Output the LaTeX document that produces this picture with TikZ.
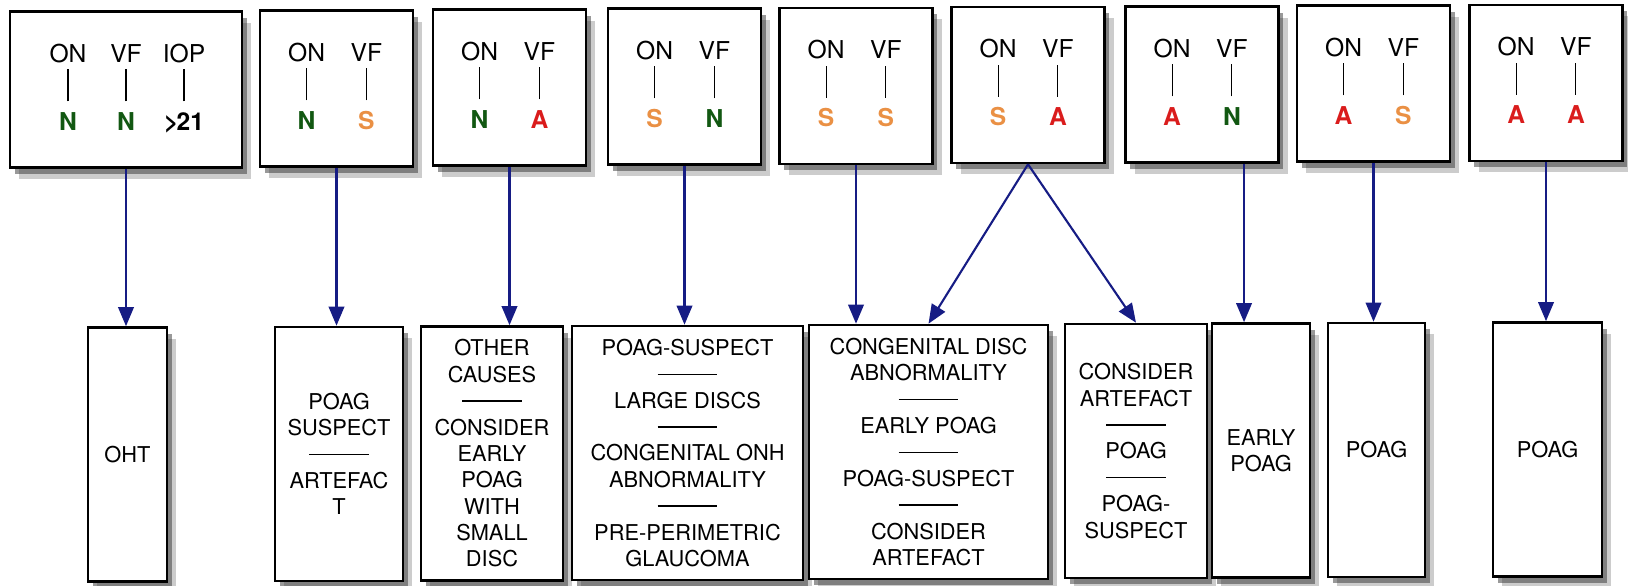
\documentclass[tikz,border=0pt]{standalone}
\usepackage{fontspec}
\setmainfont{TeX Gyre Heros}
\usepackage{array}
\usetikzlibrary{%
    arrows.meta,
    shadows,
    calc
}

\definecolor{ngreen}{RGB}{18,88,18}
\definecolor{sorange}{RGB}{234,144,68}
\definecolor{ared}{RGB}{218,28,28}
\definecolor{arrowblue}{RGB}{22,28,132}

\newcommand{\valN}{\textbf{\color{ngreen}N}}
\newcommand{\valS}{\textbf{\color{sorange}S}}
\newcommand{\valA}{\textbf{\color{ared}A}}
\newcommand{\colbar}{\smash{\rule[-1.45pt]{0.3pt}{9.1pt}}}
\newcommand{\sepline}{\rule[2pt]{17pt}{0.35pt}}
\renewcommand{\arraystretch}{1.2}
\setlength{\tabcolsep}{0pt}

\begin{document}
\begin{tikzpicture}[x=0.01cm, y=-0.01cm,
    box/.style={draw, line width=0.7pt, fill=white, inner sep=0pt,
      drop shadow={shadow xshift=2.6pt, shadow yshift=-3.2pt, fill=black, opacity=.2},
      drop shadow={shadow xshift=1.4pt, shadow yshift=-1.8pt, fill=black!80, opacity=.5}},
    tbox/.style={box, minimum width=#1, minimum height=1.56cm,
      font=\fontsize{7}{8}\selectfont},
    tbox/.default=1.53cm,
    rbox/.style={box, minimum width=#1, minimum height=2.54cm,
      align=center, font=\fontsize{6.2}{7.5}\selectfont},
    arr/.style={-{Triangle[length=5.4pt,width=4.4pt]}, line width=0.6pt, arrowblue}]
      \useasboundingbox (0,0) rectangle (1628,585);

      % findings: ON / VF (/ IOP)
      \node[tbox=2.32cm] at (126,89.5) (t1) {\begin{tabular}{*{3}{w{c}{16.5pt}}}
        ON & VF & IOP\\ \colbar & \colbar & \colbar\\ \valN & \valN & \textbf{>\kern-0.5pt21}\end{tabular}};
      \node[tbox] at (336.5,88.5) (t2) {\begin{tabular}{*{2}{w{c}{17pt}}}
        ON & VF\\ \colbar & \colbar\\ \valN & \valS\end{tabular}};
      \node[tbox] at (509.5,87.5) (t3) {\begin{tabular}{*{2}{w{c}{17pt}}}
        ON & VF\\ \colbar & \colbar\\ \valN & \valA\end{tabular}};
      \node[tbox] at (684.5,86.5) (t4) {\begin{tabular}{*{2}{w{c}{17pt}}}
        ON & VF\\ \colbar & \colbar\\ \valS & \valN\end{tabular}};
      \node[tbox] at (856,86) (t5) {\begin{tabular}{*{2}{w{c}{17pt}}}
        ON & VF\\ \colbar & \colbar\\ \valS & \valS\end{tabular}};
      \node[tbox] at (1028,85) (t6) {\begin{tabular}{*{2}{w{c}{17pt}}}
        ON & VF\\ \colbar & \colbar\\ \valS & \valA\end{tabular}};
      \node[tbox] at (1202,84.5) (t7) {\begin{tabular}{*{2}{w{c}{17pt}}}
        ON & VF\\ \colbar & \colbar\\ \valA & \valN\end{tabular}};
      \node[tbox] at (1373.5,83.5) (t8) {\begin{tabular}{*{2}{w{c}{17pt}}}
        ON & VF\\ \colbar & \colbar\\ \valA & \valS\end{tabular}};
      \node[tbox] at (1546,83) (t9) {\begin{tabular}{*{2}{w{c}{17pt}}}
        ON & VF\\ \colbar & \colbar\\ \valA & \valA\end{tabular}};

      % interpretations
      \node[rbox=0.79cm] at (127.5,454.5) (r1) {OHT};
      \node[rbox=1.28cm] at (339,454) (r2) {POAG\\SUSPECT\\\sepline\\ARTEFAC\\T};
      \node[rbox=1.42cm] at (492,453.5) (r3) {OTHER\\CAUSES\\\sepline\\CONSIDER\\EARLY\\POAG\\WITH\\SMALL\\DISC};
      \node[rbox=2.31cm] at (687.5,453) (r4) {POAG-SUSPECT\\\sepline\\LARGE DISCS\\\sepline\\CONGENITAL ONH\\ABNORMALITY\\\sepline\\PRE-PERIMETRIC\\GLAUCOMA};
      \node[rbox=2.39cm] at (928.5,452) (r5) {CONGENITAL DISC\\ABNORMALITY\\\sepline\\EARLY POAG\\\sepline\\POAG-SUSPECT\\\sepline\\CONSIDER\\ARTEFACT};
      \node[rbox=1.42cm] at (1136,451) (r6) {CONSIDER\\ARTEFACT\\\sepline\\POAG\\\sepline\\POAG-\\SUSPECT};
      \node[rbox=0.98cm] at (1261,450.5) (r7) {EARLY\\POAG};
      \node[rbox=0.97cm] at (1376.5,450) (r8) {POAG};
      \node[rbox=1.09cm] at (1547.5,449.5) (r9) {POAG};

      \coordinate (t7a) at ([xshift=0.42cm]t7.south);

      \draw[arr] (t1.south) -- (t1.south |- r1.north);
      \draw[arr] (t2.south) -- (t2.south |- r2.north);
      \draw[arr] (t3.south) -- (t3.south |- r3.north);
      \draw[arr] (t4.south) -- (t4.south |- r4.north);
      \draw[arr] (t5.south) -- (t5.south |- r5.north);
      \draw[arr] (t6.south) -- (r5.north);
      \draw[arr] (t6.south) -- (r6.north);
      \draw[arr] (t7a) -- (t7a |- r7.north);
      \draw[arr] (t8.south) -- (t8.south |- r8.north);
      \draw[arr] (t9.south) -- (t9.south |- r9.north);
    \end{tikzpicture}
\end{document}
